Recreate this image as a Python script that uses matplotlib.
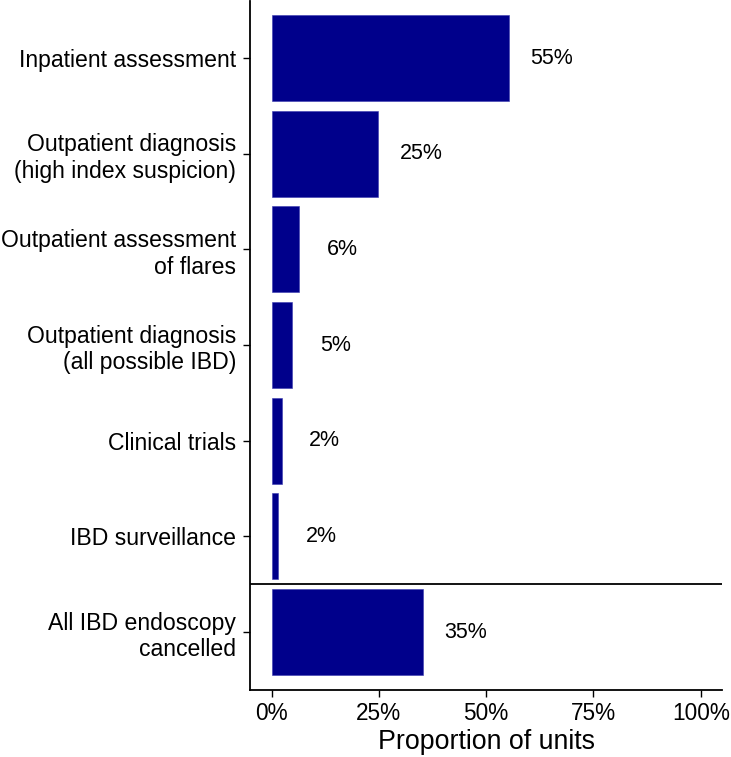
import matplotlib
matplotlib.use("Agg")
import matplotlib.pyplot as plt
from matplotlib.ticker import FuncFormatter

categories = ["Inpatient assessment",
              "Outpatient diagnosis\n(high index suspicion)",
              "Outpatient assessment\nof flares",
              "Outpatient diagnosis\n(all possible IBD)",
              "Clinical trials",
              "IBD surveillance",
              "All IBD endoscopy\ncancelled"]
values = [0.552, 0.248, 0.064, 0.048, 0.023, 0.015, 0.353]
labels = ["55%", "25%", "6%", "5%", "2%", "2%", "35%"]
xticks = [0, 0.25, 0.5, 0.75, 1.0]

plt.rcParams['font.family'] = ['Liberation Sans', 'DejaVu Sans']

W, H = 731, 757
fig = plt.figure(figsize=(W/100, H/100), dpi=100)
left, right, top, bottom = 250.2, 722.2, 0.65, 689.5
ax = fig.add_axes([left/W, (H-bottom)/H, (right-left)/W, (bottom-top)/H])

n = len(categories)
ypos = list(range(n, 0, -1))
ax.barh(ypos, values, height=0.9, color="#00008B", edgecolor="#3a3ab0", linewidth=0.4)
for y, v, l in zip(ypos, values, labels):
    ax.text(v + 0.1, y, l, ha="center", va="center", fontsize=15.5, color="black")

ax.axhline(1.5, color="black", linewidth=1.3)

ax.set_xlim(-0.05, 1.05)
ax.set_ylim(0.4, n + 0.6)
ax.set_yticks(ypos)
ax.set_yticklabels(categories, fontsize=16.6, linespacing=1.2)
ax.set_xticks(xticks)
ax.xaxis.set_major_formatter(FuncFormatter(lambda x, p: f"{int(round(x*100))}%"))
ax.tick_params(axis='x', labelsize=16.3, length=5, width=1, pad=4)
ax.tick_params(axis='y', length=5, width=1, pad=5)
ax.set_xlabel("Proportion of units", fontsize=19.3, labelpad=3)
for s in ["top", "right"]:
    ax.spines[s].set_visible(False)
for s in ["left", "bottom"]:
    ax.spines[s].set_linewidth(1.3)

fig.savefig("out.png", dpi=100)
